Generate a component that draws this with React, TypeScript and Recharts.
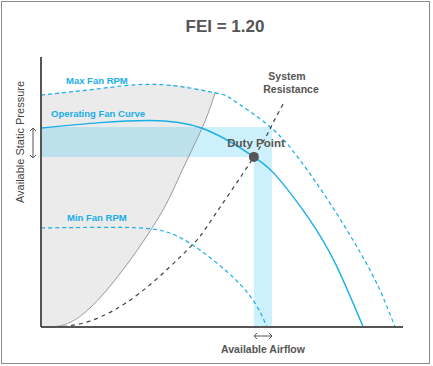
import React from 'react';
import { ComposedChart, Line, Area, XAxis, YAxis, ReferenceArea, ReferenceLine, ReferenceDot } from 'recharts';

// curves (x = airflow, y = static pressure, both 0..100)
const maxRpmX = [0, 16.3, 32.9, 48.1, 53, 63.3, 71.5, 79.8, 88.1, 93.6, 97.8];
const maxRpmY = [85.9, 88.3, 89.8, 86.7, 84.1, 74.1, 61.9, 45.9, 27.8, 13.7, 0];

const operatingX = [0, 16.3, 30.1, 44.5, 58.8, 66, 74.3, 81.5, 89];
const operatingY = [73.7, 75.7, 76.5, 73.6, 63, 54.4, 39.6, 23, 0];

const minRpmX = [0, 16.3, 27.3, 35.6, 43.9, 53, 59.1, 62.4];
const minRpmY = [36.7, 36.9, 36.7, 34.8, 28.5, 18.5, 8.9, 0];

const systemX = [3.9, 13.5, 27.3, 41.2, 46.7, 58.8, 63.8, 66.9];
const systemY = [0, 2.2, 12.6, 29.6, 38.9, 63, 74.8, 82.6];

// grey region: lower edge is the grey boundary curve, upper edge the max rpm curve
const greyX = [0, 1.1, 13.5, 30.7, 38.4, 44.5, 48.1];
const greyLow = [0, 0, 7, 36.7, 56.3, 73.7, 86.7];
const greyHigh = [85.9, 86.1, 88, 89.7, 89.5, 88, 86.7];

const duty = { x: 58.8, y: 63 };
const bandRight = 63.8;
const bandTop = 74.1;

const toRows = (xs: number[], ys: number[]) => xs.map((x, i) => ({ x, y: ys[i] }));

const maxRpm = toRows(maxRpmX, maxRpmY);
const operating = toRows(operatingX, operatingY);
const minRpm = toRows(minRpmX, minRpmY);
const system = toRows(systemX, systemY);
const grey = greyX.map((x, i) => ({ x, range: [greyLow[i], greyHigh[i]] }));
const greyEdge = toRows(greyX.slice(1), greyLow.slice(1));

const BLUE = '#18aee8';
const TEXT = '#555';
const FONT = '"Liberation Sans", Arial, sans-serif';

const label = (text: string, left: number, top: number, color: string, size: number, center = false): React.CSSProperties & { text: string } => ({
  text,
  position: 'absolute',
  left,
  top,
  color,
  fontSize: size,
  fontWeight: 700,
  whiteSpace: 'nowrap',
  transform: center ? 'translateX(-50%)' : undefined,
  lineHeight: 1,
});

const labels = [
  label('FEI = 1.20', 225, 18, TEXT, 17, true),
  label('Max Fan RPM', 66, 76, BLUE, 9.5),
  label('Operating Fan Curve', 51, 109, BLUE, 9.5),
  label('Min Fan RPM', 67, 213, BLUE, 9.5),
  label('System', 287, 71, TEXT, 10.5, true),
  label('Resistance', 291, 84, TEXT, 10.5, true),
  label('Duty Point', 256, 138, TEXT, 11.5, true),
  label('Available Airflow', 263, 344, TEXT, 10.5, true),
];

export default function App() {
  return (
    <div style={{ position: 'relative', width: 433, height: 366, fontFamily: FONT, background: '#fff' }}>
      <style>{'body{margin:0}'}</style>
      <div style={{ position: 'absolute', left: 1, top: 1, width: 429, height: 363, border: '1px solid #8a8a8a', boxSizing: 'border-box' }} />
      <ComposedChart width={433} height={366} margin={{ top: 57, right: 30, bottom: 39, left: 41 }} style={{ position: 'absolute', left: 0, top: 0 }}>
        <XAxis type="number" dataKey="x" domain={[0, 100]} hide />
        <YAxis type="number" domain={[0, 100]} hide />
        <Area data={grey} dataKey="range" type="natural" fill="#ebebeb" fillOpacity={1} stroke="none" isAnimationActive={false} />
        <ReferenceArea x1={0} x2={bandRight} y1={duty.y} y2={bandTop} fill="#00b4f0" fillOpacity={0.2} stroke="none" />
        <ReferenceArea x1={duty.x} x2={bandRight} y1={0} y2={duty.y} fill="#00b4f0" fillOpacity={0.2} stroke="none" />
        <Line data={greyEdge} dataKey="y" type="natural" stroke="#9a9a9a" strokeWidth={1} dot={false} activeDot={false} isAnimationActive={false} />
        <Line data={maxRpm} dataKey="y" type="natural" stroke={BLUE} strokeWidth={1.2} strokeDasharray="4 3" dot={false} activeDot={false} isAnimationActive={false} />
        <Line data={minRpm} dataKey="y" type="natural" stroke={BLUE} strokeWidth={1.2} strokeDasharray="4 3" dot={false} activeDot={false} isAnimationActive={false} />
        <Line data={system} dataKey="y" type="natural" stroke="#444" strokeWidth={1.2} strokeDasharray="4 4" dot={false} activeDot={false} isAnimationActive={false} />
        <Line data={operating} dataKey="y" type="natural" stroke={BLUE} strokeWidth={1.4} dot={false} activeDot={false} isAnimationActive={false} />
        <ReferenceLine x={0} stroke="#555" strokeWidth={2} />
        <ReferenceLine y={0} stroke="#555" strokeWidth={2} />
        <ReferenceDot x={duty.x} y={duty.y} r={5} fill="#555" stroke="none" />
      </ComposedChart>
      <svg width={433} height={366} style={{ position: 'absolute', left: 0, top: 0, pointerEvents: 'none' }}>
        <g stroke="#555" strokeWidth={1} fill="none">
          <path d="M33 128 L33 158 M30 131 L33 128 L36 131 M30 155 L33 158 L36 155" />
          <path d="M254 336 L272 336 M257 333 L254 336 L257 339 M269 333 L272 336 L269 339" />
        </g>
      </svg>
      {labels.map(({ text, ...style }) => (
        <div key={text} style={style}>{text}</div>
      ))}
      <div style={{ position: 'absolute', left: 20, top: 142, color: '#444', fontSize: 11, fontWeight: 400, whiteSpace: 'nowrap', transform: 'translate(-50%, -50%) rotate(-90deg)' }}>
        Available Static Pressure
      </div>
    </div>
  );
}
